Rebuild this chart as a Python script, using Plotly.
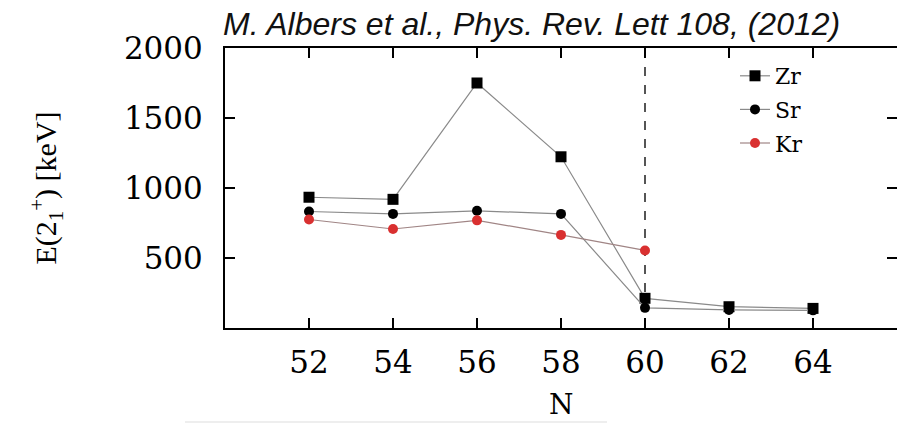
import plotly.graph_objects as go

N = [52, 54, 56, 58, 60, 62, 64]
zr = [934, 919, 1750, 1223, 212, 152, 140]
sr = [832, 815, 837, 815, 144, 129, 126]
N_kr = [52, 54, 56, 58, 60]
kr = [775, 707, 769, 665, 554]
y_ticks = [500, 1000, 1500, 2000]
x_ticks = [52, 54, 56, 58, 60, 62, 64]
shell_N = 60

W, H = 897, 423
L, R, T, B = 225, 0, 48, 95
PH = H - T - B

fig = go.Figure()
fig.add_trace(go.Scatter(x=N, y=zr, name="Zr", mode="lines+markers", legendgroup="a",
                         line=dict(color="#8a8a8a", width=1.2),
                         marker=dict(symbol="square", size=11, color="black")))
fig.add_trace(go.Scatter(x=N, y=sr, name="Sr", mode="lines+markers", legendgroup="b",
                         line=dict(color="#8a8a8a", width=1.2),
                         marker=dict(symbol="circle", size=10, color="black")))
fig.add_trace(go.Scatter(x=N_kr, y=kr, name="Kr", mode="lines+markers", legendgroup="c",
                         line=dict(color="#a08585", width=1.2),
                         marker=dict(symbol="circle", size=10, color="#d93030")))

fig.add_vline(x=shell_N, line=dict(color="#555555", width=2, dash="dash"), layer="below")

fig.add_annotation(text="<i>M. Albers et al., Phys. Rev. Lett 108, (2012)</i>",
                   xref="paper", yref="paper", x=-0.006, y=1.0, xanchor="left", yanchor="bottom",
                   yshift=4, showarrow=False,
                   font=dict(family="Liberation Sans", size=32, color="#111"))

# x-axis title "N"
fig.add_annotation(text="N", xref="paper", yref="paper", x=0.5, y=-(423 - (H - B)) / PH,
                   xanchor="center", yanchor="bottom", showarrow=False,
                   font=dict(family="DejaVu Serif", size=28, color="black"))

fig.add_shape(type="line", xref="paper", yref="paper",
              x0=(185 - L) / (W - L - R), x1=(607 - L) / (W - L - R),
              y0=-(422 - (H - B)) / PH, y1=-(422 - (H - B)) / PH,
              line=dict(color="#dddddd", width=1))

axis_common = dict(showline=True, linecolor="black", linewidth=2, mirror="ticks",
                   ticks="inside", ticklen=10, tickwidth=1.5, tickcolor="black",
                   showgrid=False, zeroline=False, automargin=False,
                   tickfont=dict(family="DejaVu Serif", size=31, color="black"))

fig.update_xaxes(range=[50, 66], tickvals=x_ticks, ticklabelstandoff=6, **axis_common)
fig.update_yaxes(range=[0, 2000], tickvals=y_ticks, ticklabelstandoff=14,
                 title=dict(text="E(2<sub>1</sub><sup>+</sup>) [keV]",
                            font=dict(family="Liberation Serif", size=30, color="black"),
                            standoff=58),
                 **axis_common)

fig.update_layout(
    width=W, height=H,
    margin=dict(l=L, r=R, t=T, b=B, autoexpand=False),
    plot_bgcolor="white", paper_bgcolor="white",
    showlegend=True,
    legend=dict(x=(735 - L) / (W - L - R), y=0.975, xanchor="left", yanchor="top",
                bgcolor="rgba(0,0,0,0)", tracegroupgap=2,
                font=dict(family="DejaVu Serif", size=22, color="black")),
)

fig.write_html("out.html")
